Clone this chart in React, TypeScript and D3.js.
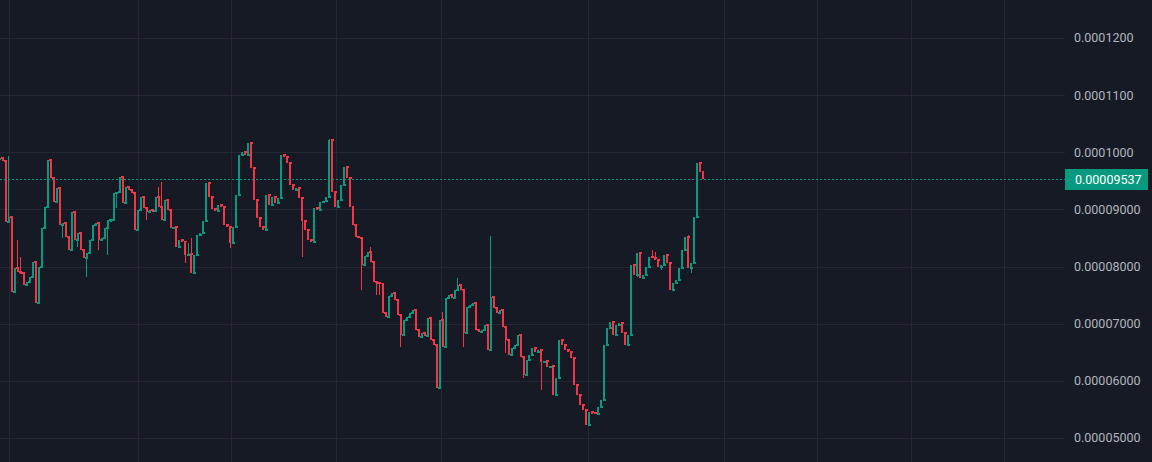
import React from 'react';
import * as d3 from 'd3';

// prices are stored in units of 1e-8 (9537 -> 0.00009537)
const firstOpen = 9880;
const closes = [
	9900, 9848, 8780, 8868, 7555, 7975, 7905, 7888, 7678, 7730,
	7818, 8080, 7363, 7993, 8675, 9043, 9865, 9550, 9130, 9375,
	8728, 8763, 8518, 8290, 8955, 8465, 8588, 8290, 8150, 8238,
	8465, 8728, 8763, 8465, 8500, 8675, 8815, 8815, 9288, 9305,
	9568, 9113, 9393, 9340, 9288, 8640, 8990, 9218, 9025, 8955,
	8990, 8975, 9218, 9043, 8815, 9165, 8990, 8675, 8693, 8343,
	8465, 8440, 8203, 8220, 7888, 8203, 8553, 8588, 8798, 9463,
	9218, 9008, 8973, 9078, 9043, 8728, 8693, 8413, 8693, 9253,
	9953, 10005, 9953, 10163, 9725, 9165, 8850, 8693, 8640, 9253,
	9078, 9218, 9113, 9200, 9953, 9918, 9813, 9428, 9340, 9375,
	9200, 8798, 8640, 8465, 8430, 9025, 8990, 9130, 9150, 9218,
	10215, 9305, 9043, 9165, 9428, 9743, 9550, 9043, 8728, 8518,
	8500, 8028, 8185, 8255, 8080, 7730, 7713, 7700, 7188, 7118,
	7485, 7538, 7415, 7153, 6803, 7065, 7118, 7188, 7240, 6890,
	6768, 6838, 6785, 7100, 6715, 6628, 5875, 7065, 6593, 7450,
	7503, 7450, 7590, 7678, 7590, 6838, 7293, 7328, 7363, 6890,
	6855, 6890, 6978, 6540, 7468, 7275, 7188, 7240, 6943, 6715,
	6453, 6575, 6628, 6803, 6418, 6103, 6365, 6453, 6575, 6505,
	6540, 6330, 6345, 6243, 6260, 5753, 6050, 6715, 6628, 6540,
	6505, 6400, 5928, 5753, 5578, 5490, 5228, 5455, 5440, 5420,
	5543, 5665, 6628, 6925, 7030, 6803, 6978, 7013, 6838, 6628,
	6803, 8028, 7853, 8238, 7800, 7853, 7993, 8168, 8150, 8115,
	7993, 8028, 8203, 8063, 7590, 7713, 7765, 7975, 8290, 8518,
	7975, 8063, 8868, 9813, 9655, 9537,
];

// [candle index, wick price] where the wick goes past the body
const highWicks: [number, number][] = [
	[3, 9935], [6, 8465], [7, 8168], [17, 9813], [53, 9393], [54, 9480],
	[63, 8413], [64, 8500], [110, 10233], [124, 8343], [148, 7205],
	[153, 7800], [164, 8535], [218, 8290], [219, 8255], [230, 8553],
];
const lowWicks: [number, number][] = [
	[21, 8500], [26, 8343], [29, 7818], [33, 8290], [36, 8203], [39, 9025],
	[49, 8815], [62, 8063], [77, 8325], [101, 8168], [121, 7590], [126, 7503],
	[127, 7503], [134, 6593], [155, 6593], [169, 6488], [175, 6050],
	[181, 5840], [213, 7818], [221, 7940], [231, 7888],
];

const priceTicks = [5000, 6000, 7000, 8000, 9000, 10000, 11000, 12000];
const tickLabels = [
	'0.00005000', '0.00006000', '0.00007000', '0.00008000',
	'0.00009000', '0.0001000', '0.0001100', '0.0001200',
];
// vertical time grid, in candle index units
const timeGridIdx = [3, 46.1, 77.2, 112.3, 147.4, 196.6, 242, 273.1, 304.5, 335.6];

const lastPrice = 9537;
const lastLabel = '0.00009537';

const UP = '#089981';
const DOWN = '#f23645';

const App: React.FC = () => {
	const width = 1152;
	const height = 462;
	const paneRight = 1065;

	const x = d3.scaleLinear().domain([0, closes.length - 1]).range([0, 703]);
	const y = d3.scaleLinear().domain([5000, 12000]).range([438, 38]);
	const step = x(1) - x(0);

	const hiMap = new Map(highWicks);
	const loMap = new Map(lowWicks);

	const candles = closes.map((c, i) => {
		const o = i === 0 ? firstOpen : closes[i - 1];
		const hi = Math.max(o, c, hiMap.get(i) ?? 0);
		const lo = Math.min(o, c, loMap.get(i) ?? Infinity);
		return { i, o, c, hi, lo, up: c >= o };
	});

	const lastY = Math.round(y(lastPrice)) + 0.5;

	return (
		<div style={{ position: 'fixed', left: 0, top: 0 }}>
			<svg width={width} height={height} style={{ display: 'block' }}>
				<rect width={width} height={height} fill="#161a25" />

				{/* grid */}
				<g stroke="#242733" strokeWidth={1}>
					{priceTicks.map((t) => (
						<line key={t} x1={0} x2={paneRight} y1={Math.round(y(t)) + 0.5} y2={Math.round(y(t)) + 0.5} />
					))}
					{timeGridIdx.map((t) => (
						<line key={t} x1={Math.round(x(t)) + 0.5} x2={Math.round(x(t)) + 0.5} y1={0} y2={height} />
					))}
				</g>

				{/* candles: thin bodies plus a flat step at the open, like a dense TV chart */}
				<g shapeRendering="crispEdges">
					{candles.map((d) => {
						const top = y(Math.max(d.o, d.c));
						const bot = y(Math.min(d.o, d.c));
						const col = d.up ? UP : DOWN;
						const cx = x(d.i);
						return (
							<g key={d.i} fill={col}>
								<rect x={cx - 0.5} width={1} y={y(d.hi)} height={y(d.lo) - y(d.hi)} />
								<rect x={cx - step / 2} width={step} y={y(d.o) - 0.75} height={1.5} />
								<rect x={cx - 1} width={2} y={top} height={Math.max(1.5, bot - top)} />
							</g>
						);
					})}
				</g>

				{/* last price line */}
				<line
					x1={0}
					x2={paneRight}
					y1={lastY}
					y2={lastY}
					stroke={UP}
					strokeWidth={1}
					strokeDasharray="2 2"
					shapeRendering="crispEdges"
				/>

				{/* price axis */}
				<g fontFamily="Roboto, 'Liberation Sans', sans-serif" fontSize={12.5} fill="#b2b5be">
					{priceTicks.map((t, k) => (
						<text key={t} x={1074} y={y(t)} dy="0.35em">
							{tickLabels[k]}
						</text>
					))}
				</g>
				<rect x={paneRight} y={lastY - 10.5} width={83} height={21} fill={UP} />
				<text
					x={1075}
					y={lastY}
					dy="0.35em"
					fontFamily="Roboto, 'Liberation Sans', sans-serif"
					fontSize={12.5}
					fill="#ffffff">
					{lastLabel}
				</text>
			</svg>
		</div>
	);
};

export default App;
